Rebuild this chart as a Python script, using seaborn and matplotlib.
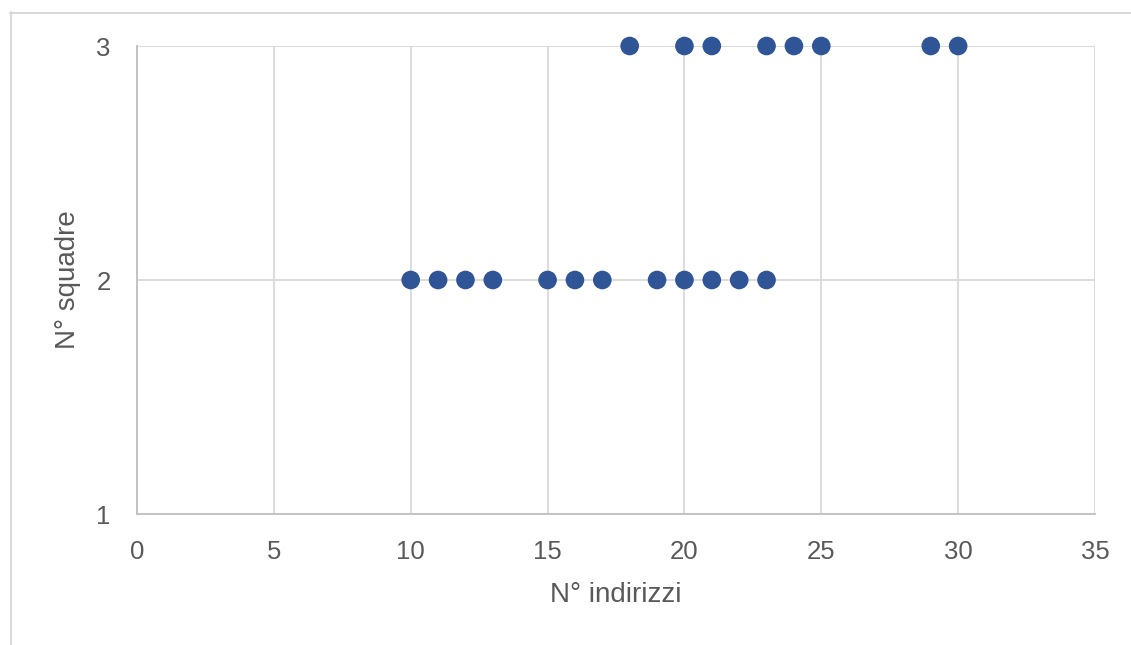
import matplotlib
matplotlib.use("Agg")
import matplotlib.pyplot as plt
from matplotlib.lines import Line2D
import seaborn as sns
import pandas as pd

# Number of addresses handled per team count
indirizzi_3 = [18, 20, 21, 23, 24, 25, 29, 30]
indirizzi_2 = [10, 11, 12, 13, 15, 16, 17, 19, 20, 21, 22, 23]
x_ticks = [0, 5, 10, 15, 20, 25, 30, 35]
y_ticks = [1, 2, 3]

df = pd.DataFrame({
    "indirizzi": indirizzi_3 + indirizzi_2,
    "squadre": [3] * len(indirizzi_3) + [2] * len(indirizzi_2),
})

sns.set_style("white")
plt.rcParams["font.family"] = ["Liberation Sans", "DejaVu Sans"]

text_color = "#595959"
grid_color = "#d9d9d9"
axis_color = "#bfbfbf"

fig = plt.figure(figsize=(11.31, 6.45), dpi=100)
ax = fig.add_axes([137 / 1131, 1 - 514 / 645, (1095 - 137) / 1131, (514 - 46) / 645])

sns.scatterplot(data=df, x="indirizzi", y="squadre", ax=ax, s=180,
                color="#2F5597", edgecolor="none", zorder=3, clip_on=False)

ax.set_xlim(0, 35)
ax.set_ylim(1, 3)
ax.set_xticks(x_ticks)
ax.set_yticks(y_ticks)
ax.grid(True, color=grid_color, linewidth=1.3)
ax.set_axisbelow(True)

for side in ("top", "right"):
    ax.spines[side].set_visible(False)
for side in ("left", "bottom"):
    ax.spines[side].set_color(axis_color)
    ax.spines[side].set_linewidth(1.3)

ax.tick_params(axis="both", length=0, labelsize=18.5, labelcolor=text_color)
ax.tick_params(axis="x", pad=19)
ax.tick_params(axis="y", pad=19)

ax.set_xlabel("N° indirizzi", fontsize=20, color=text_color, labelpad=13)
ax.set_ylabel("N° squadre", fontsize=20, color=text_color, labelpad=11)

# Outer chart frame (left and top edges)
fig.add_artist(Line2D([10.5 / 1131, 10.5 / 1131], [0, 1 - 12 / 645],
                      transform=fig.transFigure, color=grid_color, linewidth=1.5))
fig.add_artist(Line2D([10 / 1131, 1], [1 - 12.5 / 645, 1 - 12.5 / 645],
                      transform=fig.transFigure, color=grid_color, linewidth=1.5))

fig.savefig("out.png", dpi=100, facecolor="white")
